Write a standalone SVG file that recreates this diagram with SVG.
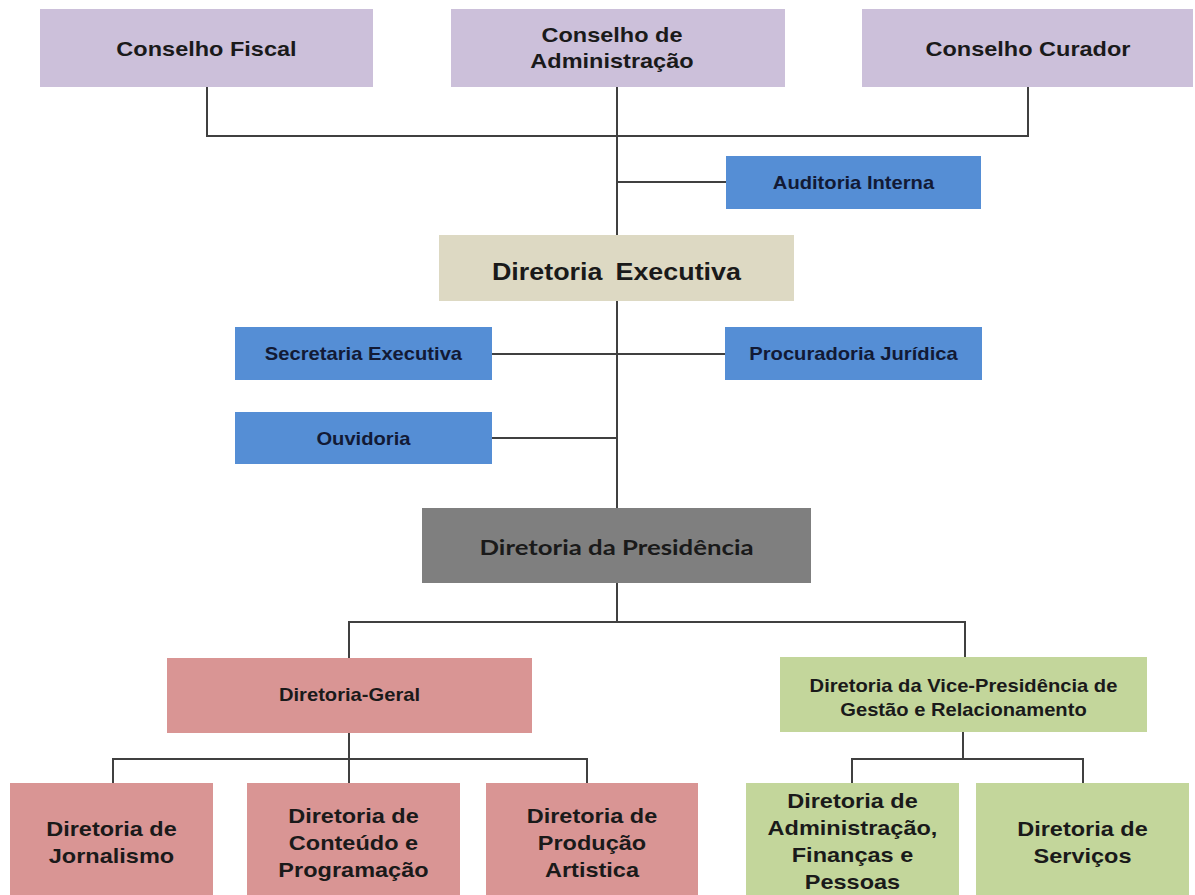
<svg xmlns="http://www.w3.org/2000/svg" width="1195" height="895" viewBox="0 0 1195 895">
<style>
.bx{stroke:none}
.lil{fill:#CCC0DA}
.blu{fill:#558ED5}
.bei{fill:#DDD9C3}
.gry{fill:#7F7F7F}
.pnk{fill:#D99594}
.grn{fill:#C3D69B}
text{font-family:"Liberation Sans",Arial,sans-serif;font-weight:bold;text-anchor:middle;fill:#1a1a1a;transform-box:fill-box;transform-origin:center;transform:scaleX(1.12)}
.t21{font-size:21px}
.t24{font-size:24px}
.t18{font-size:18px}
.t19{font-size:19px}
.nv{fill:#121a35}
.pres{font-family:Lato,"Open Sans",sans-serif;font-size:21px;transform:none}
.conn{fill:none;stroke:#404040;stroke-width:2}
</style>
<rect width="1195" height="895" fill="#ffffff"/>
<g id="connectors" class="conn">
<polyline points="207,87 207,136 1028,136 1028,87"/>
<line x1="617" y1="87" x2="617" y2="508"/>
<line x1="617" y1="182" x2="726" y2="182"/>
<line x1="492" y1="354" x2="726" y2="354"/>
<line x1="492" y1="438" x2="617" y2="438"/>
<polyline points="617,583 617,622"/>
<polyline points="349,658 349,622 965,622 965,657"/>
<polyline points="349,733 349,759"/>
<polyline points="113,783 113,759 587,759 587,783"/>
<line x1="349" y1="759" x2="349" y2="783"/>
<polyline points="963,732 963,759"/>
<polyline points="852,783 852,759 1083,759 1083,783"/>
</g>
<g id="conselho-fiscal"><rect class="bx lil" x="40" y="9" width="333" height="78"/><text class="t21" x="206.5" y="56">Conselho Fiscal</text></g>
<g id="conselho-administracao"><rect class="bx lil" x="451" y="9" width="334" height="78"/><text class="t21" x="612" y="42">Conselho de</text><text class="t21" x="612" y="68">Administração</text></g>
<g id="conselho-curador"><rect class="bx lil" x="862" y="9" width="331" height="78"/><text class="t21" x="1028" y="56">Conselho Curador</text></g>
<g id="auditoria-interna"><rect class="bx blu" x="726" y="156" width="255" height="53"/><text class="t18 nv" x="853.5" y="189">Auditoria Interna</text></g>
<g id="diretoria-executiva"><rect class="bx bei" x="439" y="235" width="355" height="66"/><text class="t24" x="616.5" y="280" word-spacing="5">Diretoria Executiva</text></g>
<g id="secretaria-executiva"><rect class="bx blu" x="235" y="327" width="257" height="53"/><text class="t18 nv" x="363.5" y="360">Secretaria Executiva</text></g>
<g id="procuradoria-juridica"><rect class="bx blu" x="725" y="327" width="257" height="53"/><text class="t18 nv" x="853.5" y="360">Procuradoria Jurídica</text></g>
<g id="ouvidoria"><rect class="bx blu" x="235" y="412" width="257" height="52"/><text class="t18 nv" x="363.5" y="445">Ouvidoria</text></g>
<g id="diretoria-presidencia"><rect class="bx gry" x="422" y="508" width="389" height="75"/><text class="pres" x="616.5" y="555" textLength="274" lengthAdjust="spacingAndGlyphs">Diretoria da Presidência</text></g>
<g id="diretoria-geral"><rect class="bx pnk" x="167" y="658" width="365" height="75"/><text class="t18" x="349.5" y="701">Diretoria-Geral</text></g>
<g id="diretoria-vice-presidencia"><rect class="bx grn" x="780" y="657" width="367" height="75"/><text class="t18" x="963.5" y="692">Diretoria da Vice-Presidência de</text><text class="t18" x="963.5" y="716">Gestão e Relacionamento</text></g>
<g id="diretoria-jornalismo"><rect class="bx pnk" x="10" y="783" width="203" height="112"/><text class="t21" x="111.5" y="836">Diretoria de</text><text class="t21" x="111.5" y="863">Jornalismo</text></g>
<g id="diretoria-conteudo"><rect class="bx pnk" x="247" y="783" width="213" height="112"/><text class="t21" x="353.5" y="823">Diretoria de</text><text class="t21" x="353.5" y="850">Conteúdo e</text><text class="t21" x="353.5" y="877">Programação</text></g>
<g id="diretoria-producao"><rect class="bx pnk" x="486" y="783" width="212" height="112"/><text class="t21" x="592" y="823">Diretoria de</text><text class="t21" x="592" y="850">Produção</text><text class="t21" x="592" y="877">Artistica</text></g>
<g id="diretoria-administracao"><rect class="bx grn" x="746" y="783" width="213" height="112"/><text class="t21" x="852.5" y="808">Diretoria de</text><text class="t21" x="852.5" y="835">Administração,</text><text class="t21" x="852.5" y="862">Finanças e</text><text class="t21" x="852.5" y="889">Pessoas</text></g>
<g id="diretoria-servicos"><rect class="bx grn" x="976" y="783" width="213" height="112"/><text class="t21" x="1082.5" y="836">Diretoria de</text><text class="t21" x="1082.5" y="863">Serviços</text></g>
</svg>
